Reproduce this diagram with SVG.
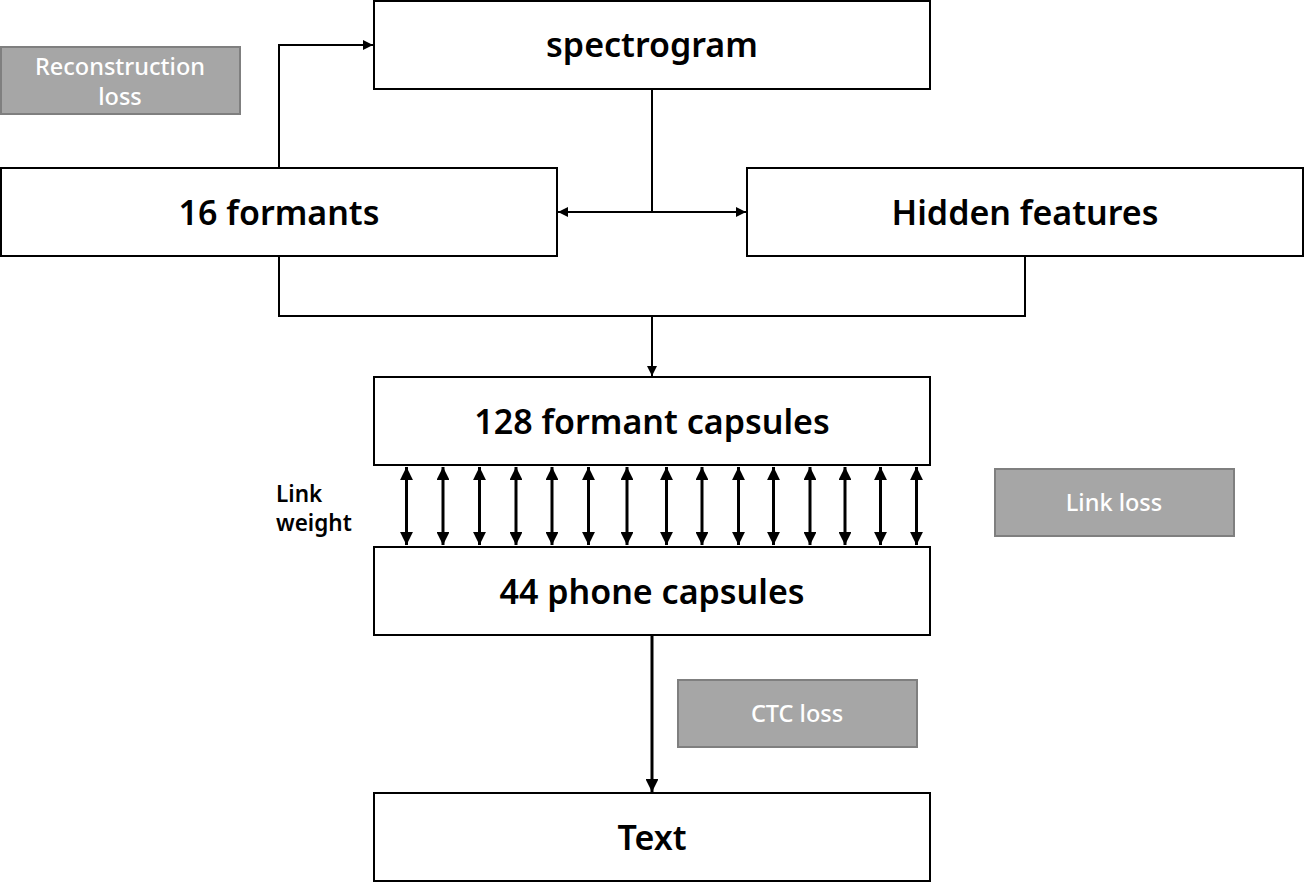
<svg xmlns="http://www.w3.org/2000/svg" width="1304" height="883" viewBox="0 0 1304 883">
  <defs>
    <marker id="tri" viewBox="0 0 10 10" refX="10" refY="5" markerWidth="11" markerHeight="10" markerUnits="userSpaceOnUse" orient="auto-start-reverse">
      <path d="M0,0 L10,5 L0,10 z" fill="#000"/>
    </marker>
    <marker id="triB" viewBox="0 0 10 10" refX="10" refY="5" markerWidth="5" markerHeight="4.3" orient="auto-start-reverse">
      <path d="M0,0 L10,5 L0,10 z" fill="#000"/>
    </marker>
  </defs>
  <style>
    .box { fill: #fff; stroke: #000; stroke-width: 2; }
    .loss { fill: #a6a6a6; stroke: #7f7f7f; stroke-width: 2; }
    .big { font-family: "Noto Sans", "Open Sans", sans-serif; font-weight: 600; font-size: 34px; fill: #000; text-anchor: middle; }
    .lt { font-family: "Noto Sans", "Open Sans", sans-serif; font-weight: 500; font-size: 23.5px; fill: #fff; text-anchor: middle; }
    .note { font-family: "Noto Sans", "Open Sans", sans-serif; font-weight: 600; font-size: 22.5px; fill: #000; }
    .wire { fill: none; stroke: #000; stroke-width: 2; }
    .link { fill: none; stroke: #000; stroke-width: 3; }
  </style>
  <rect width="1304" height="883" fill="#fff"/>

  <g id="connectors">
    <!-- formants up to spectrogram -->
    <path class="wire" d="M279,168 V45 H373" marker-end="url(#tri)"/>
    <!-- spectrogram down to split -->
    <path class="wire" d="M652,89 V212"/>
    <path class="wire" d="M558,212 H746" marker-start="url(#tri)" marker-end="url(#tri)"/>
    <!-- merge into formant capsules -->
    <path class="wire" d="M279,256 V316 H1025 V256"/>
    <path class="wire" d="M652,316 V376" marker-end="url(#tri)"/>
    <!-- link weights -->
    <g class="links">
      <path class="link" d="M406.5,467 V545" marker-start="url(#triB)" marker-end="url(#triB)"/>
      <path class="link" d="M443,467 V545" marker-start="url(#triB)" marker-end="url(#triB)"/>
      <path class="link" d="M479.5,467 V545" marker-start="url(#triB)" marker-end="url(#triB)"/>
      <path class="link" d="M516,467 V545" marker-start="url(#triB)" marker-end="url(#triB)"/>
      <path class="link" d="M552,467 V545" marker-start="url(#triB)" marker-end="url(#triB)"/>
      <path class="link" d="M588.5,467 V545" marker-start="url(#triB)" marker-end="url(#triB)"/>
      <path class="link" d="M627,467 V545" marker-start="url(#triB)" marker-end="url(#triB)"/>
      <path class="link" d="M666.5,467 V545" marker-start="url(#triB)" marker-end="url(#triB)"/>
      <path class="link" d="M702,467 V545" marker-start="url(#triB)" marker-end="url(#triB)"/>
      <path class="link" d="M738.5,467 V545" marker-start="url(#triB)" marker-end="url(#triB)"/>
      <path class="link" d="M773.5,467 V545" marker-start="url(#triB)" marker-end="url(#triB)"/>
      <path class="link" d="M810,467 V545" marker-start="url(#triB)" marker-end="url(#triB)"/>
      <path class="link" d="M845,467 V545" marker-start="url(#triB)" marker-end="url(#triB)"/>
      <path class="link" d="M880.5,467 V545" marker-start="url(#triB)" marker-end="url(#triB)"/>
      <path class="link" d="M916.5,467 V545" marker-start="url(#triB)" marker-end="url(#triB)"/>
    </g>
    <!-- phone capsules to text -->
    <path class="link" d="M652,635 V792" marker-end="url(#triB)"/>
  </g>

  <g id="spectrogram">
    <rect class="box" x="374" y="1" width="556" height="88"/>
    <text class="big" x="652" y="57">spectrogram</text>
  </g>
  <g id="formants">
    <rect class="box" x="1" y="168" width="556" height="88"/>
    <text class="big" x="279" y="225">16 formants</text>
  </g>
  <g id="hidden-features">
    <rect class="box" x="747" y="168" width="556" height="88"/>
    <text class="big" x="1025" y="225">Hidden features</text>
  </g>
  <g id="formant-capsules">
    <rect class="box" x="374" y="377" width="556" height="88"/>
    <text class="big" x="652" y="434">128 formant capsules</text>
  </g>
  <g id="phone-capsules">
    <rect class="box" x="374" y="547" width="556" height="88"/>
    <text class="big" x="652" y="604">44 phone capsules</text>
  </g>
  <g id="text-out">
    <rect class="box" x="374" y="793" width="556" height="88"/>
    <text class="big" x="652" y="850">Text</text>
  </g>

  <g id="reconstruction-loss">
    <rect class="loss" x="1" y="47" width="239" height="67"/>
    <text class="lt" x="120" y="75">Reconstruction</text>
    <text class="lt" x="120" y="105">loss</text>
  </g>
  <g id="link-loss">
    <rect class="loss" x="995" y="469" width="239" height="67"/>
    <text class="lt" x="1114" y="511">Link loss</text>
  </g>
  <g id="ctc-loss">
    <rect class="loss" x="678" y="680" width="239" height="67"/>
    <text class="lt" x="797" y="722">CTC loss</text>
  </g>

  <g id="link-weight">
    <text class="note" x="276" y="502">Link</text>
    <text class="note" x="276" y="531">weight</text>
  </g>
</svg>
